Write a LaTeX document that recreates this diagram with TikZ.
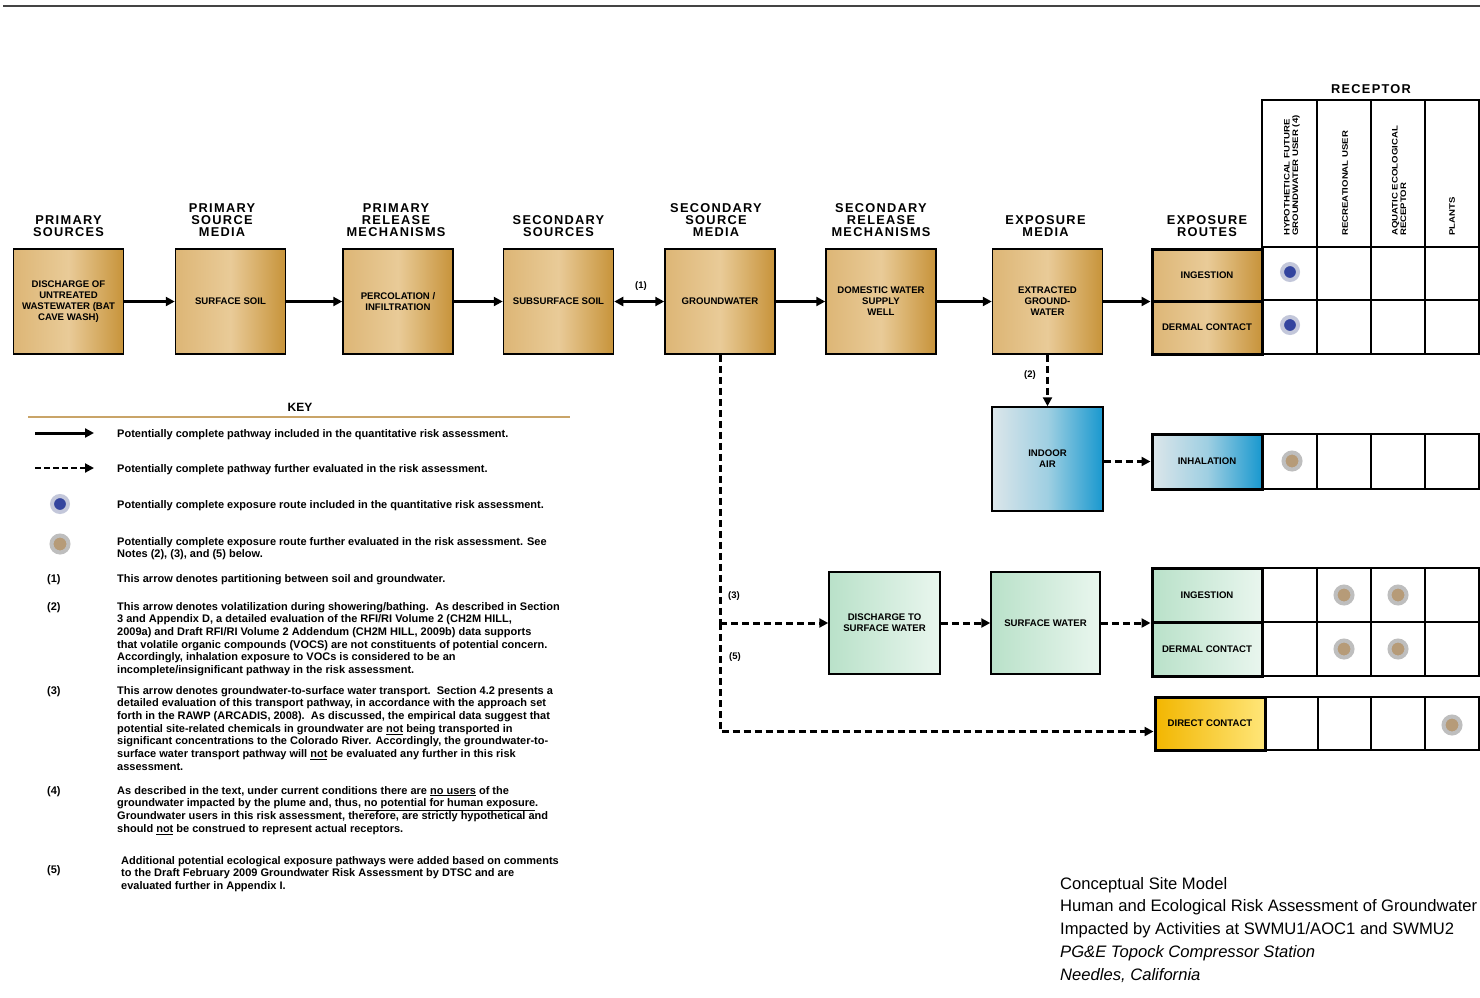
\documentclass[tikz,border=0pt]{standalone}
\usepackage{fontspec}
\setmainfont{Liberation Sans}
\newfontfamily\hdrfont[LetterSpace=10]{Liberation Sans}
\newfontfamily\rcpfont[FakeStretch=1.2]{Liberation Sans}
\usetikzlibrary{arrows.meta}
\definecolor{tanL}{HTML}{DDB676}
\definecolor{tanM}{HTML}{E9CB98}
\definecolor{tanR}{HTML}{C7933A}
\definecolor{airL}{HTML}{DCE6EA}
\definecolor{airM}{HTML}{9FCFE2}
\definecolor{airR}{HTML}{1898CF}
\definecolor{grnL}{HTML}{B9E1C9}
\definecolor{grnR}{HTML}{E9F6EE}
\definecolor{ylwL}{HTML}{F2B600}
\definecolor{ylwR}{HTML}{FFE679}
\definecolor{keyline}{HTML}{C9A468}
\definecolor{dotblue}{HTML}{33449E}
\definecolor{dotbring}{HTML}{C3C7DA}
\definecolor{dottan}{HTML}{B69B78}
\definecolor{dottring}{HTML}{BEBEBE}
\definecolor{topline}{HTML}{444444}
\newcommand\boxfont{\bfseries\fontsize{9.6}{11}\selectfont}
\newcommand\keyfont{\bfseries\fontsize{11}{12.7}\selectfont}
\begin{document}
\begin{tikzpicture}[x=1pt,y=-1pt,
  tanbox/.style={draw=black, line width=1.5pt, left color=tanL, right color=tanR, middle color=tanM,
    minimum width=110pt, minimum height=105pt, inner sep=2pt, align=center, font=\boxfont},
  airbox/.style={draw=black, line width=1.5pt, left color=airL, right color=airR, middle color=airM,
    minimum width=111pt, minimum height=104pt, inner sep=2pt, align=center, font=\boxfont},
  grnbox/.style={draw=black, line width=1.5pt, left color=grnL, right color=grnR,
    minimum width=110pt, minimum height=102pt, inner sep=2pt, align=center, font=\boxfont},
  routebox/.style={draw=black, line width=3pt, minimum width=110pt, minimum height=53pt,
    inner sep=2pt, align=center, font=\boxfont},
  hdrtext/.style={font=\hdrfont\bfseries\fontsize{12.8}{12}\selectfont, align=center, anchor=south, inner sep=0pt},
  rcptext/.style={font=\rcpfont\bfseries\fontsize{8}{8.5}\selectfont, align=left, rotate=90, anchor=west, inner sep=0pt},
  keytext/.style={font=\keyfont, align=left, anchor=base west, inner sep=0pt},
  paratext/.style={font=\keyfont, align=left, anchor=north west, inner sep=0pt},
  numtext/.style={font=\keyfont, anchor=base west, inner sep=0pt},
  lbl/.style={font=\bfseries\fontsize{9.5}{10}\selectfont, inner sep=0pt},
  gridline/.style={line width=1.5pt, draw=black},
  sarrow/.style={line width=3pt, -{Triangle[length=9pt,width=9pt]}},
  sdarrow/.style={line width=3pt, {Triangle[length=9pt,width=9pt]}-{Triangle[length=9pt,width=9pt]}},
  darrow/.style={line width=3pt, dash pattern=on 7pt off 4pt, -{Triangle[length=9pt,width=9pt]}},
  dline/.style={line width=3pt, dash pattern=on 7pt off 4pt},
  kdarrow/.style={line width=2pt, dash pattern=on 6pt off 3pt, -{Triangle[length=9pt,width=9pt]}},
  bdot/.style={circle, draw=dotbring, line width=4pt, fill=dotblue, minimum size=16pt, inner sep=0pt},
  tdot/.style={circle, draw=dottring, line width=4pt, fill=dottan, minimum size=17pt, inner sep=0pt}
]
\useasboundingbox (0,0) rectangle (1480,997);
\fill[white] (0,0) rectangle (1480,997);
\draw[line width=2.5pt, topline] (3,6) -- (1480,6);

% ---- main row boxes
\node[tanbox] (b1) at (68.5,301.5) {DISCHARGE OF\\UNTREATED\\WASTEWATER (BAT\\CAVE WASH)};
\node[tanbox] (b2) at (230.5,301.5) {SURFACE SOIL};
\node[tanbox] (b3) at (398,301.5) {PERCOLATION /\\INFILTRATION};
\node[tanbox] (b4) at (558.5,301.5) {SUBSURFACE SOIL};
\node[tanbox] (b5) at (720,301.5) {GROUNDWATER};
\node[tanbox] (b6) at (881,301.5) {DOMESTIC WATER\\SUPPLY\\WELL};
\node[tanbox] (b7) at (1047.5,301.5) {EXTRACTED\\GROUND-\\WATER};

% ---- headers
\node[hdrtext] (h1) at (68.5,237) {PRIMARY\\SOURCES};
\node[hdrtext] (h2) at (222,237) {PRIMARY\\SOURCE\\MEDIA};
\node[hdrtext] (h3) at (396,237) {PRIMARY\\RELEASE\\MECHANISMS};
\node[hdrtext] (h4) at (558.5,237) {SECONDARY\\SOURCES};
\node[hdrtext] (h5) at (716,237) {SECONDARY\\SOURCE\\MEDIA};
\node[hdrtext] (h6) at (881,237) {SECONDARY\\RELEASE\\MECHANISMS};
\node[hdrtext] (h7) at (1045.5,237) {EXPOSURE\\MEDIA};
\node[hdrtext] (h8) at (1207,237) {EXPOSURE\\ROUTES};
\node[hdrtext] (h9) at (1371,94) {RECEPTOR};

% ---- receptor table (top)
\draw[gridline] (1262,100) -- (1479,100) -- (1479,354) -- (1262,354) -- cycle;
\foreach \x in {1317,1371,1425} \draw[gridline] (\x,100) -- (\x,354);
\draw[gridline] (1262,247) -- (1479,247);
\draw[gridline] (1262,300) -- (1479,300);
\node[rcptext] (r1) at (1292,236) {HYPOTHETICAL FUTURE\\GROUNDWATER USER (4)};
\node[rcptext] (r2) at (1345,236) {RECREATIONAL USER};
\node[rcptext] (r3) at (1399,236) {AQUATIC ECOLOGICAL\\RECEPTOR};
\node[rcptext] (r4) at (1452,236) {PLANTS};

\node[routebox, left color=tanL, right color=tanR, middle color=tanM, minimum height=52pt] (ing) at (1207,275) {INGESTION};
\node[routebox, left color=tanL, right color=tanR, middle color=tanM] (derm) at (1207,327.5) {DERMAL CONTACT};

% ---- indoor air
\node[airbox] (ia) at (1047.5,459) {INDOOR\\AIR};
\draw[gridline] (1262,434) rectangle (1479,489);
\foreach \x in {1317,1371,1425} \draw[gridline] (\x,434) -- (\x,489);
\node[routebox, left color=airL, right color=airR, middle color=airM, minimum height=55pt] (inh) at (1207,461.5) {INHALATION};

% ---- surface water
\node[grnbox, minimum width=111pt] (dsw) at (884.5,623) {DISCHARGE TO\\SURFACE WATER};
\node[grnbox, minimum width=109pt] (sw) at (1045.5,623) {SURFACE WATER};
\draw[gridline] (1262,568) rectangle (1479,676);
\draw[gridline] (1262,622) -- (1479,622);
\foreach \x in {1317,1371,1425} \draw[gridline] (\x,568) -- (\x,676);
\node[routebox, left color=grnL, right color=grnR, minimum height=54pt] (ging) at (1207,595) {INGESTION};
\node[routebox, left color=grnL, right color=grnR, minimum height=54pt] (gderm) at (1207,649) {DERMAL CONTACT};

% ---- direct contact
\draw[gridline] (1265,697) rectangle (1479,750);
\foreach \x in {1318,1371,1425} \draw[gridline] (\x,697) -- (\x,750);
\node[routebox, left color=ylwL, right color=ylwR] (dc) at (1210,723.5) {DIRECT CONTACT};

% ---- dots
\node[bdot] (d1) at (1290,272) {};
\node[bdot] (d2) at (1290,325) {};
\node[tdot] (d3) at (1292,461) {};
\node[tdot] (d4) at (1344,595) {};
\node[tdot] (d5) at (1398,595) {};
\node[tdot] (d6) at (1344,649) {};
\node[tdot] (d7) at (1398,649) {};
\node[tdot] (d8) at (1452,725) {};

% ---- connectors
\draw[sarrow] (b1) -- (b2);
\draw[sarrow] (b2) -- (b3);
\draw[sarrow] (b3) -- (b4);
\draw[sdarrow] (b4) -- (b5);
\draw[sarrow] (b5) -- (b6);
\draw[sarrow] (b6) -- (b7);
\draw[sarrow] (b7.east) -- (b7.east -| ing.west);
\node[lbl] (l1) at (641,286) {(1)};

\draw[darrow] (b7.south) -- (ia.north);
\node[lbl] (l2) at (1030,375) {(2)};
\draw[darrow] (ia.east |- inh.west) -- (inh.west);

\coordinate (j3) at (b5.south |- dsw.west);
\coordinate (dcin) at ([yshift=-8pt]dc.west);
\coordinate (j5) at (b5.south |- dcin);
\draw[dline] (b5.south) -- (j3);
\draw[darrow] (j3) -- (dsw.west);
\draw[darrow] (j3) -- (j5) -- (dcin);
\draw[darrow] (dsw) -- (sw);
\draw[darrow] (sw.east) -- (sw.east -| ging.west);
\node[lbl] (l3) at (734,596) {(3)};
\node[lbl] (l5) at (735,657) {(5)};

% ---- key
\node[font=\bfseries\fontsize{12}{12}\selectfont, inner sep=0pt] (keyt) at (300,407) {KEY};
\draw[line width=2.5pt, keyline] (28,417) -- (570,417);
\coordinate (k1a) at (35,433);
\coordinate (k1b) at (94,433);
\draw[sarrow] (k1a) -- (k1b);
\coordinate (k2a) at (35,468);
\coordinate (k2b) at (94,468);
\draw[kdarrow] (k2a) -- (k2b);
\node[bdot] (kb) at (60,504) {};
\node[tdot] (kt) at (60,544) {};

\node[keytext] (t1) at (117,437) {Potentially complete pathway included in the quantitative risk assessment.};
\node[keytext] (t2) at (117,472) {Potentially complete pathway further evaluated in the risk assessment.};
\node[keytext] (t3) at (117,508) {Potentially complete exposure route included in the quantitative risk assessment.};
\node[paratext] (t4) at (117,537) {Potentially complete exposure route further evaluated in the risk assessment. See\\Notes (2), (3), and (5) below.};

\node[numtext] (n1) at (47,582) {(1)};
\node[keytext] (t5) at (117,582) {This arrow denotes partitioning between soil and groundwater.};
\node[numtext] (n2) at (47,610) {(2)};
\node[paratext] (t6) at (117,602) {This arrow denotes volatilization during showering/bathing.\ \ As described in Section\\
3 and Appendix D, a detailed evaluation of the RFI/RI Volume 2 (CH2M HILL,\\
2009a) and Draft RFI/RI Volume 2 Addendum (CH2M HILL, 2009b) data supports\\
that volatile organic compounds (VOCS) are not constituents of potential concern.\\
Accordingly, inhalation exposure to VOCs is considered to be an\\
incomplete/insignificant pathway in the risk assessment.};
\node[numtext] (n3) at (47,694) {(3)};
\node[paratext] (t7) at (117,686) {This arrow denotes groundwater-to-surface water transport.\ \ Section 4.2 presents a\\
detailed evaluation of this transport pathway, in accordance with the approach set\\
forth in the RAWP (ARCADIS, 2008).\ \ As discussed, the empirical data suggest that\\
potential site-related chemicals in groundwater are \underline{not} being transported in\\
significant concentrations to the Colorado River. Accordingly, the groundwater-to-\\
surface water transport pathway will \underline{not} be evaluated any further in this risk\\
assessment.};
\node[numtext] (n4) at (47,794) {(4)};
\node[paratext] (t8) at (117,786) {As described in the text, under current conditions there are \underline{no users} of the\\
groundwater impacted by the plume and, thus, \underline{no potential for human exposure}.\\
Groundwater users in this risk assessment, therefore, are strictly hypothetical and\\
should \underline{not} be construed to represent actual receptors.};
\node[numtext] (n5) at (47,873) {(5)};
\node[paratext] (t9) at (121,856) {Additional potential ecological exposure pathways were added based on comments\\
to the Draft February 2009 Groundwater Risk Assessment by DTSC and are\\
evaluated further in Appendix I.};

% ---- title block
\node[font=\fontsize{16.6}{22.7}\selectfont, align=left, anchor=north west, inner sep=0pt] (title) at (1060,877)
 {Conceptual Site Model\\
  Human and Ecological Risk Assessment of Groundwater\\
  Impacted by Activities at SWMU1/AOC1 and SWMU2\\
  \textit{PG\&E Topock Compressor Station}\\
  \textit{Needles, California}};
\end{tikzpicture}
\end{document}
